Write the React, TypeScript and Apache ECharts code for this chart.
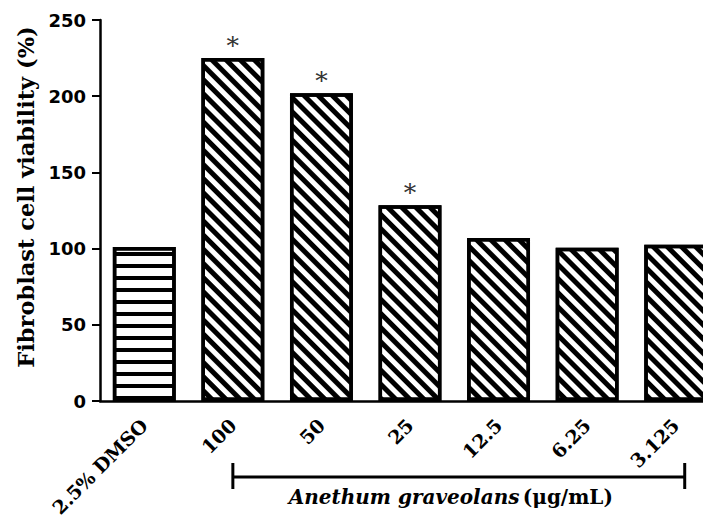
import React, { useEffect, useRef } from "react";
import * as echarts from "echarts";

const categories = ["2.5% DMSO", "100", "50", "25", "12.5", "6.25", "3.125"];
const viability = [101, 225, 202, 128.5, 107, 100.5, 102.5];
const significant = [false, true, true, true, false, false, false];
const yTicks = { min: 0, max: 250, interval: 50 };
const yTitle = "Fibroblast cell viability (%)";
const bracketLabel = "Anethum graveolans";
const bracketUnit = "(μg/mL)";

const horizontalDecal = {
  symbol: "rect",
  symbolSize: 1,
  color: "#000",
  dashArrayX: [1, 0],
  dashArrayY: [4, 8],
  rotation: 0,
};
const diagonalDecal = {
  symbol: "rect",
  symbolSize: 1,
  color: "#000",
  dashArrayX: [1, 0],
  dashArrayY: [4.5, 4.5],
  rotation: Math.PI / 4,
};

export default function App() {
  const ref = useRef<HTMLDivElement>(null);
  useEffect(() => {
    if (!ref.current) return;
    const chart = echarts.init(ref.current, undefined, { renderer: "svg" });
    const data = viability.map((v, i) => ({
      value: v,
      itemStyle: {
        color: "#fff",
        borderColor: "#000",
        borderWidth: 3.5,
        decal: i === 0 ? horizontalDecal : diagonalDecal,
      },
      label: {
        show: significant[i],
        position: "top",
        distance: 0,
        formatter: "*",
        fontFamily: "DejaVu Serif",
        fontSize: 25,
        color: "#333",
      },
    }));
    chart.setOption({
      animation: false,
      backgroundColor: "#fff",
      grid: { left: 100, top: 20, bottom: 122, width: 620, containLabel: false, outerBoundsMode: "none" },
      xAxis: {
        type: "category",
        data: categories,
        axisLine: { lineStyle: { color: "#000", width: 2.5 } },
        axisTick: { alignWithLabel: true, length: 7, lineStyle: { color: "#000", width: 2 } },
        axisLabel: {
          rotate: 45,
          margin: 21,
          interval: 0,
          color: "#000",
          fontFamily: "DejaVu Serif",
          fontWeight: "bold",
          fontSize: 19,
        },
      },
      yAxis: {
        type: "value",
        min: yTicks.min,
        max: yTicks.max,
        interval: yTicks.interval,
        splitLine: { show: false },
        axisLine: { show: true, lineStyle: { color: "#000", width: 2.5 } },
        axisTick: { show: true, length: 8, lineStyle: { color: "#000", width: 2 } },
        axisLabel: {
          margin: 14,
          color: "#000",
          fontFamily: "DejaVu Sans",
          fontWeight: "bold",
          fontSize: 18,
        },
      },
      series: [
        {
          type: "bar",
          data,
          barCategoryGap: "29%",
        },
      ],
    });
    const x1 = chart.convertToPixel({ xAxisIndex: 0 }, categories[1]) as number;
    const x2 = (chart.convertToPixel({ xAxisIndex: 0 }, categories[6]) as number) + 9;
    const yLine = 477;
    chart.setOption({
      graphic: [
        {
          type: "text",
          x: 26,
          y: 197,
          rotation: Math.PI / 2,
          style: {
            text: yTitle,
            align: "center",
            verticalAlign: "middle",
            fontFamily: "DejaVu Serif",
            fontWeight: "bold",
            fontSize: 22.5,
            fill: "#000",
          },
        },
        { type: "line", shape: { x1, y1: yLine, x2, y2: yLine }, style: { stroke: "#000", lineWidth: 3 } },
        { type: "line", shape: { x1, y1: yLine - 14, x2: x1, y2: yLine + 12 }, style: { stroke: "#000", lineWidth: 3 } },
        { type: "line", shape: { x1: x2, y1: yLine - 14, x2, y2: yLine + 12 }, style: { stroke: "#000", lineWidth: 3 } },
        {
          type: "text",
          x: (x1 + x2) / 2 - 8,
          y: 497,
          style: {
            text: `{i|${bracketLabel}} {n|${bracketUnit}}`,
            align: "center",
            verticalAlign: "middle",
            rich: {
              i: { fontFamily: "DejaVu Serif", fontStyle: "italic", fontWeight: "bold", fontSize: 20, fill: "#000" },
              n: { fontFamily: "DejaVu Serif", fontWeight: "bold", fontSize: 20, fill: "#000" },
            },
          },
        },
      ],
    });
    return () => chart.dispose();
  }, []);
  return <div ref={ref} style={{ width: 711, height: 523, margin: -8 }} />;
}
